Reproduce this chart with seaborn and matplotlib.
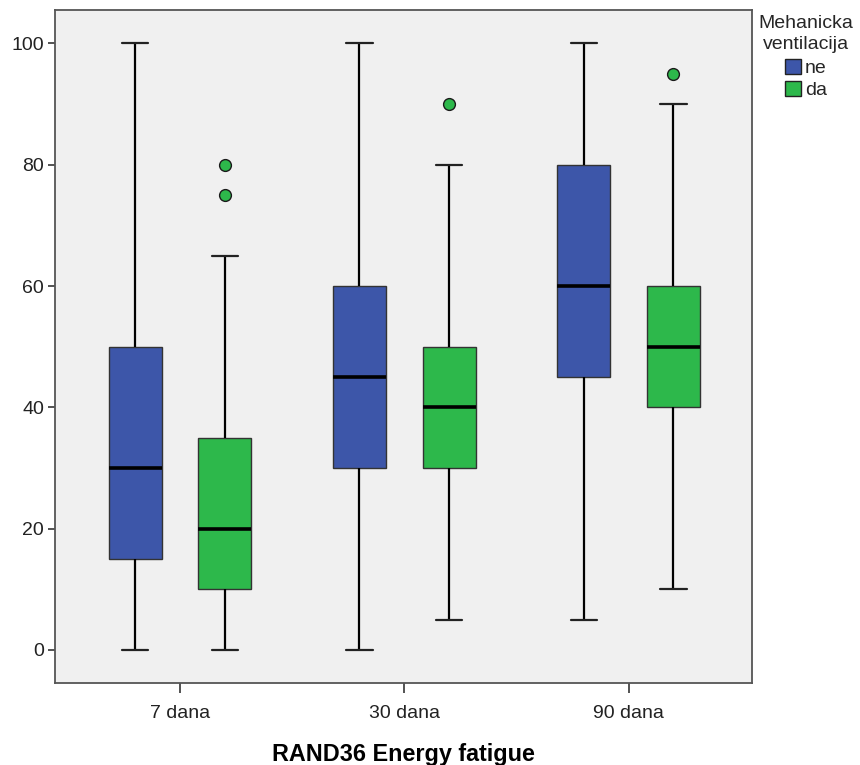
import numpy as np
import pandas as pd
import matplotlib
matplotlib.use("Agg")
import matplotlib.pyplot as plt
import seaborn as sns

# Box summaries per measurement time and ventilation group
times = ["7 dana", "30 dana", "90 dana"]
groups = ["ne", "da"]

ne_low = [0, 0, 5]
ne_q1 = [15, 30, 45]
ne_median = [30, 45, 60]
ne_q3 = [50, 60, 80]
ne_high = [100, 100, 100]
ne_outliers = [[], [], []]

da_low = [0, 5, 10]
da_q1 = [10, 30, 40]
da_median = [20, 40, 50]
da_q3 = [35, 50, 60]
da_high = [65, 80, 90]
da_outliers = [[75, 80], [90], [95]]

y_ticks = [0, 20, 40, 60, 80, 100]

colors = {"ne": "#3d56a9", "da": "#2db84b"}


def expand(low, q1, med, q3, high, extra):
    # observations reproducing the quartiles, whisker ends and outliers
    return [low] + [q1] * 20 + [med] * 20 + [q3] * 20 + [high] + list(extra)


rows = []
summaries = {
    "ne": (ne_low, ne_q1, ne_median, ne_q3, ne_high, ne_outliers),
    "da": (da_low, da_q1, da_median, da_q3, da_high, da_outliers),
}
for g in groups:
    lo, q1, md, q3, hi, out = summaries[g]
    for i, t in enumerate(times):
        for v in expand(lo[i], q1[i], md[i], q3[i], hi[i], out[i]):
            rows.append({"time": t, "group": g, "value": v})
df = pd.DataFrame(rows)

sns.set_theme(style="ticks")
plt.rcParams["font.family"] = ["Liberation Sans", "DejaVu Sans"]

fig = plt.figure(figsize=(8.6, 7.65), dpi=100)
ax = fig.add_axes([55 / 860, 1 - 683 / 765, (752 - 55) / 860, (683 - 10) / 765])
ax.set_facecolor("#f0f0f0")

sns.boxplot(
    data=df, x="time", y="value", hue="group",
    order=times, hue_order=groups, palette=colors,
    saturation=1, width=0.8, gap=0.41, whis=1.5,
    linecolor="#222222", linewidth=1.0,
    boxprops=dict(edgecolor="#333333", linewidth=1.0),
    whiskerprops=dict(color="black", linewidth=1.6),
    capprops=dict(color="#222222", linewidth=1.6),
    medianprops=dict(color="black", linewidth=2.6),
    flierprops=dict(marker="o", markersize=8.5, markerfacecolor=colors["da"],
                    markeredgecolor="#1a1a1a", markeredgewidth=1.0),
    legend=False, ax=ax,
)

ax.set_xlim(-0.557, 2.55)
ax.set_ylim(-5.44, 105.5)
ax.set_yticks(y_ticks)
ax.set_yticklabels([str(v) for v in y_ticks])
ax.set_xlabel("RAND36 Energy fatigue", fontsize=16.8, fontweight="bold",
              color="black", labelpad=15)
ax.set_ylabel("")

for side in ["left", "bottom", "right", "top"]:
    ax.spines[side].set_visible(True)
    ax.spines[side].set_color("#555555")
    ax.spines[side].set_linewidth(1.3)
ax.tick_params(axis="both", direction="out", length=5, width=1.3,
               color="#444444", labelsize=14, labelcolor="#222222", pad=3)
ax.tick_params(axis="x", length=7, pad=9)

handles = [plt.Rectangle((0, 0), 1, 1, facecolor=colors[g], edgecolor="#222222",
                         linewidth=1.0) for g in groups]
leg = fig.legend(handles, groups, title="Mehanicka\nventilacija",
                 loc="upper left", bbox_to_anchor=(745 / 860, 1 - 1 / 765),
                 frameon=False, fontsize=14, title_fontsize=14,
                 handlelength=0.8, handleheight=0.8, handletextpad=0.2,
                 labelspacing=0.2, borderpad=0.2)
leg.get_title().set_multialignment("center")
leg.get_title().set_linespacing(1.35)
leg._legend_box.align = "center"
leg._legend_box.sep = 4

fig.savefig("out.png", dpi=100)
